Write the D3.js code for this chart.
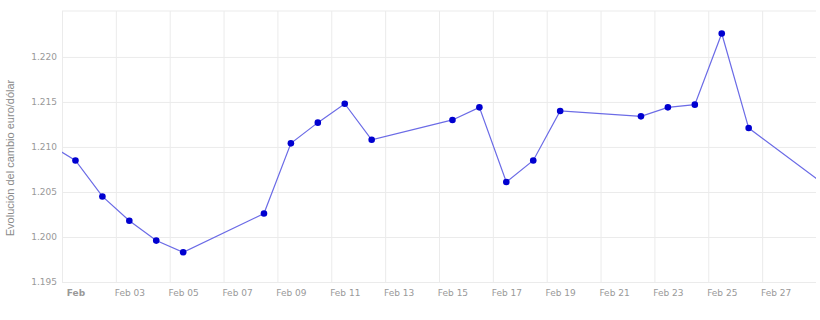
<!DOCTYPE html>
<html><head><meta charset="utf-8">
<script src="https://cdn.jsdelivr.net/npm/d3@7"></script>
<style>body{margin:0;background:#fff}svg{display:block}</style>
</head><body><div id="chart"></div>
<script>
const dates = ["2021-01-29","2021-02-01","2021-02-02","2021-02-03","2021-02-04","2021-02-05","2021-02-08","2021-02-09","2021-02-10","2021-02-11","2021-02-12","2021-02-15","2021-02-16","2021-02-17","2021-02-18","2021-02-19","2021-02-22","2021-02-23","2021-02-24","2021-02-25","2021-02-26","2021-03-01"];
const rates = [1.2140,1.2085,1.2045,1.2018,1.1996,1.1983,1.2026,1.2104,1.2127,1.2148,1.2108,1.2130,1.2144,1.2061,1.2085,1.2140,1.2134,1.2144,1.2147,1.2226,1.2121,1.2054];
const yTicks = [1.195,1.200,1.205,1.210,1.215,1.220];
const xTickDates = ["2021-02-01","2021-02-03","2021-02-05","2021-02-07","2021-02-09","2021-02-11","2021-02-13","2021-02-15","2021-02-17","2021-02-19","2021-02-21","2021-02-23","2021-02-25","2021-02-27"];
const xTickLabels = ["Feb","Feb 03","Feb 05","Feb 07","Feb 09","Feb 11","Feb 13","Feb 15","Feb 17","Feb 19","Feb 21","Feb 23","Feb 25","Feb 27"];
const yTitle = "Evolución del cambio euro/dólar";

const W = 820, H = 320;
const m = {l:62, r:4, t:11, b:38};
const parse = s => { const [y,mo,d] = s.split("-").map(Number); return new Date(Date.UTC(y,mo-1,d)); };
const noon = s => new Date(parse(s).getTime() + 12*3600e3);

const x = d3.scaleUtc().domain([parse("2021-02-01"), parse("2021-03-01")]).range([m.l, W-m.r]);
const y = d3.scaleLinear().domain([1.195, 1.2251]).range([H-m.b, m.t]);

const svg = d3.select("#chart").append("svg").attr("width",W).attr("height",H);

svg.append("defs").append("clipPath").attr("id","clip")
  .append("rect").attr("x",m.l).attr("y",m.t).attr("width",W-m.r-m.l).attr("height",H-m.b-m.t);

// grid
const xAxis = d3.axisBottom(x).tickValues(xTickDates.map(parse)).tickSize(-(H-m.b-m.t)).tickFormat("");
svg.append("g").attr("transform",`translate(0,${H-m.b})`).call(xAxis)
  .call(g=>g.select(".domain").remove())
  .call(g=>g.selectAll("line").attr("stroke","#ebebeb"));
const yAxis = d3.axisLeft(y).tickValues(yTicks).tickSize(-(W-m.l-m.r)).tickFormat(d3.format(".3f")).tickPadding(5);
svg.append("g").attr("transform",`translate(${m.l},0)`).call(yAxis)
  .call(g=>g.select(".domain").remove())
  .call(g=>g.selectAll("line").attr("stroke","#ebebeb"))
  .call(g=>g.selectAll("text").attr("fill","#999").attr("font-size","9px").attr("font-family","'DejaVu Sans', Verdana, sans-serif"));

// top border
svg.append("line").attr("x1",m.l).attr("x2",W-m.r).attr("y1",m.t).attr("y2",m.t).attr("stroke","#ebebeb");

// x labels at noon (period labels)
const xl = d3.axisBottom(x).tickValues(xTickDates.map(noon)).tickSize(0).tickPadding(8)
  .tickFormat((d,i)=>xTickLabels[i]);
svg.append("g").attr("transform",`translate(0,${H-m.b})`).call(xl)
  .call(g=>g.select(".domain").remove())
  .call(g=>g.selectAll("text").attr("fill","#999").attr("font-size","9px").attr("font-family","'DejaVu Sans', Verdana, sans-serif")
     .attr("font-weight",(d,i)=>i===0?"bold":"normal"));

// y title
svg.append("text").attr("transform",`translate(14,158) rotate(-90)`)
  .attr("text-anchor","middle").attr("fill","#8a8a8a").attr("font-size","11px")
  .attr("font-family","'Liberation Sans', Arial, sans-serif").text(yTitle);

const data = dates.map((d,i)=>({d:noon(d), v:rates[i]}));
const g = svg.append("g").attr("clip-path","url(#clip)");
g.append("path").datum(data).attr("fill","none").attr("stroke","#6b6be6").attr("stroke-width",1.2)
  .attr("d", d3.line().x(d=>x(d.d)).y(d=>y(d.v)));
g.selectAll("circle").data(data).join("circle")
  .attr("cx",d=>x(d.d)).attr("cy",d=>y(d.v)).attr("r",3.3).attr("fill","#0000d0");
</script></body></html>
